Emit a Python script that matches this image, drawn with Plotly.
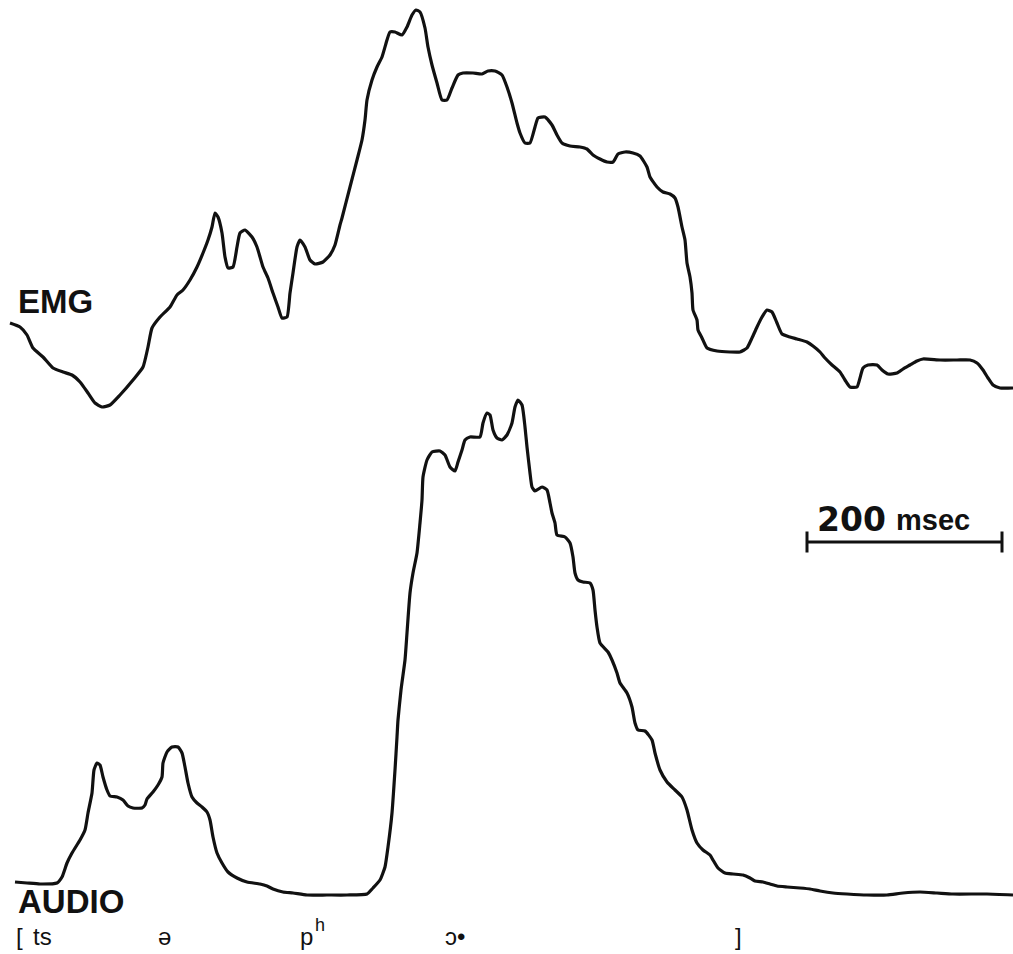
import plotly.graph_objects as go

# Horizontal positions are in chart units along the paper trace; the scale bar
# shows that 195 chart units correspond to 200 msec.
emg_t = [10, 20, 27, 33, 43, 53, 63, 72, 80, 88, 95, 102, 110, 120, 133, 143, 148, 152, 160, 170,
         177, 183, 190, 197, 203, 208, 212, 215, 218, 222, 225, 228, 233, 237, 240, 245, 252, 257, 263, 268,
         273, 278, 282, 287, 290, 293, 297, 300, 305, 310, 315, 323, 330, 335, 340, 342, 350, 357, 362, 365,
         367, 372, 377, 382, 387, 390, 395, 402, 407, 412, 416, 420, 425, 428, 432, 437, 442, 447, 452, 458,
         463, 473, 482, 488, 495, 502, 507, 512, 517, 520, 525, 530, 535, 538, 545, 552, 557, 562, 570, 580,
         587, 593, 600, 607, 613, 618, 625, 633, 640, 647, 650, 657, 663, 670, 675, 678, 682, 685, 687, 690,
         692, 693, 697, 698, 702, 707, 717, 730, 740, 747, 752, 757, 762, 767, 772, 777, 782, 790, 797, 807,
         813, 820, 825, 832, 840, 845, 850, 857, 860, 863, 868, 877, 882, 888, 897, 903, 910, 917, 923, 940,
         957, 970, 977, 983, 988, 993, 1000, 1013]
emg_amp = [87, 83, 75, 62, 53, 42, 38, 35, 28, 17, 7, 3, 5, 15, 30, 43, 63, 82, 93, 103,
           115, 120, 130, 143, 157, 170, 183, 197, 193, 177, 153, 142, 143, 163, 177, 180, 173, 163, 143, 132,
           117, 103, 92, 93, 117, 137, 163, 170, 163, 150, 146, 148, 155, 165, 185, 192, 223, 250, 270, 290,
           310, 330, 343, 353, 370, 378, 378, 375, 383, 395, 400, 398, 382, 363, 345, 327, 310, 310, 322, 335,
           337, 337, 336, 339, 339, 335, 323, 307, 287, 277, 267, 267, 283, 292, 293, 285, 275, 267, 264, 263,
           261, 255, 251, 248, 248, 256, 258, 257, 254, 243, 233, 223, 218, 216, 212, 203, 183, 170, 147, 133,
           117, 100, 90, 80, 72, 62, 59, 58, 58, 62, 72, 83, 93, 100, 98, 87, 76, 73, 71, 68,
           64, 58, 52, 45, 38, 30, 23, 23, 32, 42, 45, 45, 40, 36, 37, 41, 45, 49, 51, 50,
           50, 50, 47, 40, 32, 25, 22, 22]

audio_t = [15, 27, 40, 57, 62, 67, 72, 80, 85, 88, 92, 94, 97, 100, 103, 107, 110, 117, 123, 128,
           133, 142, 145, 147, 153, 158, 162, 163, 167, 172, 178, 182, 185, 188, 192, 197, 202, 207, 210, 213,
           217, 222, 228, 237, 247, 260, 267, 273, 283, 293, 307, 327, 347, 367, 373, 380, 385, 388, 392, 395,
           397, 398, 401, 405, 407, 410, 413, 417, 420, 422, 423, 427, 432, 440, 445, 450, 455, 458, 462, 465,
           470, 480, 483, 487, 490, 493, 497, 502, 507, 512, 515, 518, 522, 525, 527, 530, 532, 535, 542, 547,
           550, 552, 555, 557, 565, 570, 573, 575, 578, 583, 590, 593, 595, 597, 600, 608, 612, 617, 620, 627,
           632, 635, 638, 645, 652, 655, 660, 667, 675, 682, 687, 692, 697, 703, 710, 713, 718, 725, 733, 743,
           750, 755, 763, 770, 777, 787, 800, 810, 820, 833, 847, 867, 887, 903, 920, 937, 953, 987, 1013]
audio_amp = [14, 13, 12, 13, 19, 33, 43, 56, 66, 83, 103, 126, 133, 131, 119, 106, 100, 99, 96, 90,
             88, 88, 91, 97, 104, 111, 119, 133, 144, 149, 149, 143, 129, 113, 99, 93, 89, 84, 76, 59,
             43, 33, 24, 18, 14, 12, 10, 7, 4, 3, 1, 1, 1, 2, 8, 16, 29, 49, 83, 126,
             159, 176, 206, 236, 263, 303, 323, 343, 373, 396, 419, 436, 444, 445, 441, 429, 425, 434, 446, 456,
             459, 459, 473, 483, 481, 466, 458, 456, 461, 473, 489, 496, 491, 469, 449, 423, 409, 405, 409, 406,
             393, 383, 373, 361, 359, 353, 339, 323, 316, 314, 313, 306, 286, 269, 253, 244, 236, 223, 213, 203,
             189, 173, 166, 165, 156, 143, 126, 114, 106, 99, 86, 66, 53, 46, 41, 36, 28, 23, 22, 21,
             18, 15, 14, 12, 10, 9, 8, 7, 5, 3, 2, 1, 1, 3, 4, 3, 2, 2, 1]

scale_start = 807
scale_len = 195
scale_level = 354
scale_label = "200 msec"

trace_labels = ["EMG", "AUDIO"]
transcription = ["[", "ts", "ə", "p", "ɔ•", "]"]
transcription_t = [14, 31, 156, 298, 443, 733]
aspiration_mark = "h"
aspiration_t = 313

INK = "#111111"
W, H = 1013, 954

fig = go.Figure()
fig.add_trace(go.Scatter(x=emg_t, y=emg_amp, mode="lines", yaxis="y2",
                         line=dict(color=INK, width=3.2, shape="spline", smoothing=0.5),
                         hoverinfo="skip", showlegend=False))
fig.add_trace(go.Scatter(x=audio_t, y=audio_amp, mode="lines", yaxis="y",
                         line=dict(color=INK, width=3.2, shape="spline", smoothing=0.5),
                         hoverinfo="skip", showlegend=False))
fig.add_trace(go.Scatter(x=[scale_start, scale_start + scale_len], y=[scale_level, scale_level],
                         mode="lines+markers", yaxis="y",
                         line=dict(color=INK, width=3),
                         marker=dict(symbol="line-ns", size=15, line=dict(color=INK, width=3)),
                         hoverinfo="skip", showlegend=False))

def py(v):
    return 1 - v / H

ann = []
ann.append(dict(text="<b>" + trace_labels[0] + "</b>", x=16, y=py(301), xref="x", yref="paper",
                xanchor="left", yanchor="middle", showarrow=False,
                font=dict(family="Liberation Sans", size=33, color=INK)))
ann.append(dict(text="<b>" + trace_labels[1] + "</b>", x=16, y=py(901), xref="x", yref="paper",
                xanchor="left", yanchor="middle", showarrow=False,
                font=dict(family="Liberation Sans", size=33, color=INK)))
num, unit = scale_label.split(" ")
ann.append(dict(text="<b>" + num + "</b>", x=815, y=py(519), xref="x", yref="paper",
                xanchor="left", yanchor="middle", showarrow=False,
                font=dict(family="DejaVu Sans", size=33, color=INK)))
ann.append(dict(text="<b>" + unit + "</b>", x=894, y=py(520), xref="x", yref="paper",
                xanchor="left", yanchor="middle", showarrow=False,
                font=dict(family="Liberation Sans", size=29, color=INK)))
for txt, t in zip(transcription, transcription_t):
    ann.append(dict(text=txt, x=t, y=py(936), xref="x", yref="paper",
                    xanchor="left", yanchor="middle", showarrow=False,
                    font=dict(family="Liberation Sans", size=24, color=INK)))
ann.append(dict(text=aspiration_mark, x=aspiration_t, y=py(925), xref="x", yref="paper",
                xanchor="left", yanchor="middle", showarrow=False,
                font=dict(family="Liberation Sans", size=18, color=INK)))

fig.update_layout(
    width=W, height=H,
    margin=dict(l=0, r=0, t=0, b=0),
    paper_bgcolor="white", plot_bgcolor="white",
    xaxis=dict(range=[0, W], visible=False, fixedrange=True),
    yaxis=dict(range=[-(H - 896), 896], visible=False, fixedrange=True),
    yaxis2=dict(range=[410 - H, 410], visible=False, overlaying="y", fixedrange=True),
    annotations=ann,
    showlegend=False,
)

fig.write_html("out.html", config={"displayModeBar": False})
